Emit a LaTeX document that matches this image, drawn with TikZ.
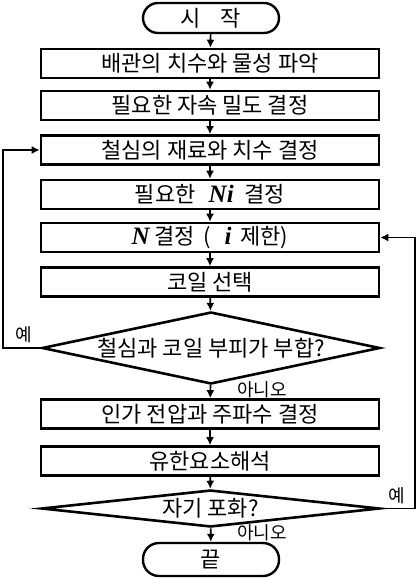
\documentclass[tikz,border=0pt]{standalone}
\usepackage{fontspec}
\setmainfont{Noto Sans CJK KR}
\newfontfamily\tnr{Liberation Serif}
\usetikzlibrary{shapes.geometric,arrows.meta}
\newcommand{\mv}[1]{{\tnr\bfseries\itshape\fontsize{25}{26}\selectfont #1}}
\begin{document}
\begin{tikzpicture}[x=1pt,y=-1pt,
  txt/.style={font=\fontsize{22}{24}\selectfont},
  procbox/.style={txt,draw,line width=2.6pt,minimum width=338pt,minimum height=29pt,inner sep=0pt},
  termbox/.style={txt,draw,line width=2.4pt,rounded corners=15pt,minimum width=136pt,minimum height=30pt,inner sep=0pt},
  decbox/.style={txt,draw,line width=2.6pt,shape=diamond,inner sep=0pt,minimum width=338pt},
  arr/.style={line width=1.7pt,-{Latex[length=8pt,width=8pt]}},
  conn/.style={line width=1.7pt},
  lbl/.style={font=\fontsize{18}{20}\selectfont,inner sep=0pt}]
\useasboundingbox (0,0) rectangle (419,578);
\node[termbox] (start) at (211,18) {시\hspace{0.9em}작};
\node[procbox] (b1) at (210,63.5) {배관의 치수와 물성 파악};
\node[procbox] (b2) at (210,105.5) {필요한 자속 밀도 결정};
\node[procbox] (b3) at (210,150) {철심의 재료와 치수 결정};
\node[procbox] (b4) at (210,194.5) {필요한\hspace{0.6em}\mv{Ni}\hspace{0.5em}결정};
\node[procbox] (b5) at (210,237.5) {\mv{N} 결정\hspace{0.4em}(\hspace{0.6em}\mv{i}\hspace{0.4em}제한)};
\node[procbox] (b6) at (210,282) {코일 선택};
\node[decbox,minimum height=72pt,aspect=4.7] (d1) at (211,348) {철심과 코일 부피가 부합?};
\node[procbox] (b7) at (210,414) {인가 전압과 주파수 결정};
\node[procbox] (b8) at (210,461) {유한요소해석};
\node[decbox,minimum height=37pt,aspect=9.1] (d2) at (210.5,508.5) {자기 포화?};
\node[termbox,minimum height=33pt,rounded corners=16pt] (end) at (211,559.5) {끝};
\draw[arr] (start) -- (b1);
\draw[arr] (b1) -- (b2);
\draw[arr] (b2) -- (b3);
\draw[arr] (b3) -- (b4);
\draw[arr] (b4) -- (b5);
\draw[arr] (b5) -- (b6);
\draw[arr] (b6) -- (d1);
\draw[arr] (d1) -- (b7);
\draw[arr] (b7) -- (b8);
\draw[arr] (b8) -- (d2);
\draw[arr] (d2) -- (end);
\coordinate (L) at (3,348);
\coordinate (R) at (415,508.5);
\draw[arr] (d1.west) -- (L) |- (b3.west);
\draw[arr] (d2.east) -- (R) |- (b5.east);
\node[lbl] (y1) at (24,335) {예};
\node[lbl] (y2) at (397,496) {예};
\node[lbl] (n1) at (262,390) {아니오};
\node[lbl] (n2) at (262,533) {아니오};
\end{tikzpicture}
\end{document}
